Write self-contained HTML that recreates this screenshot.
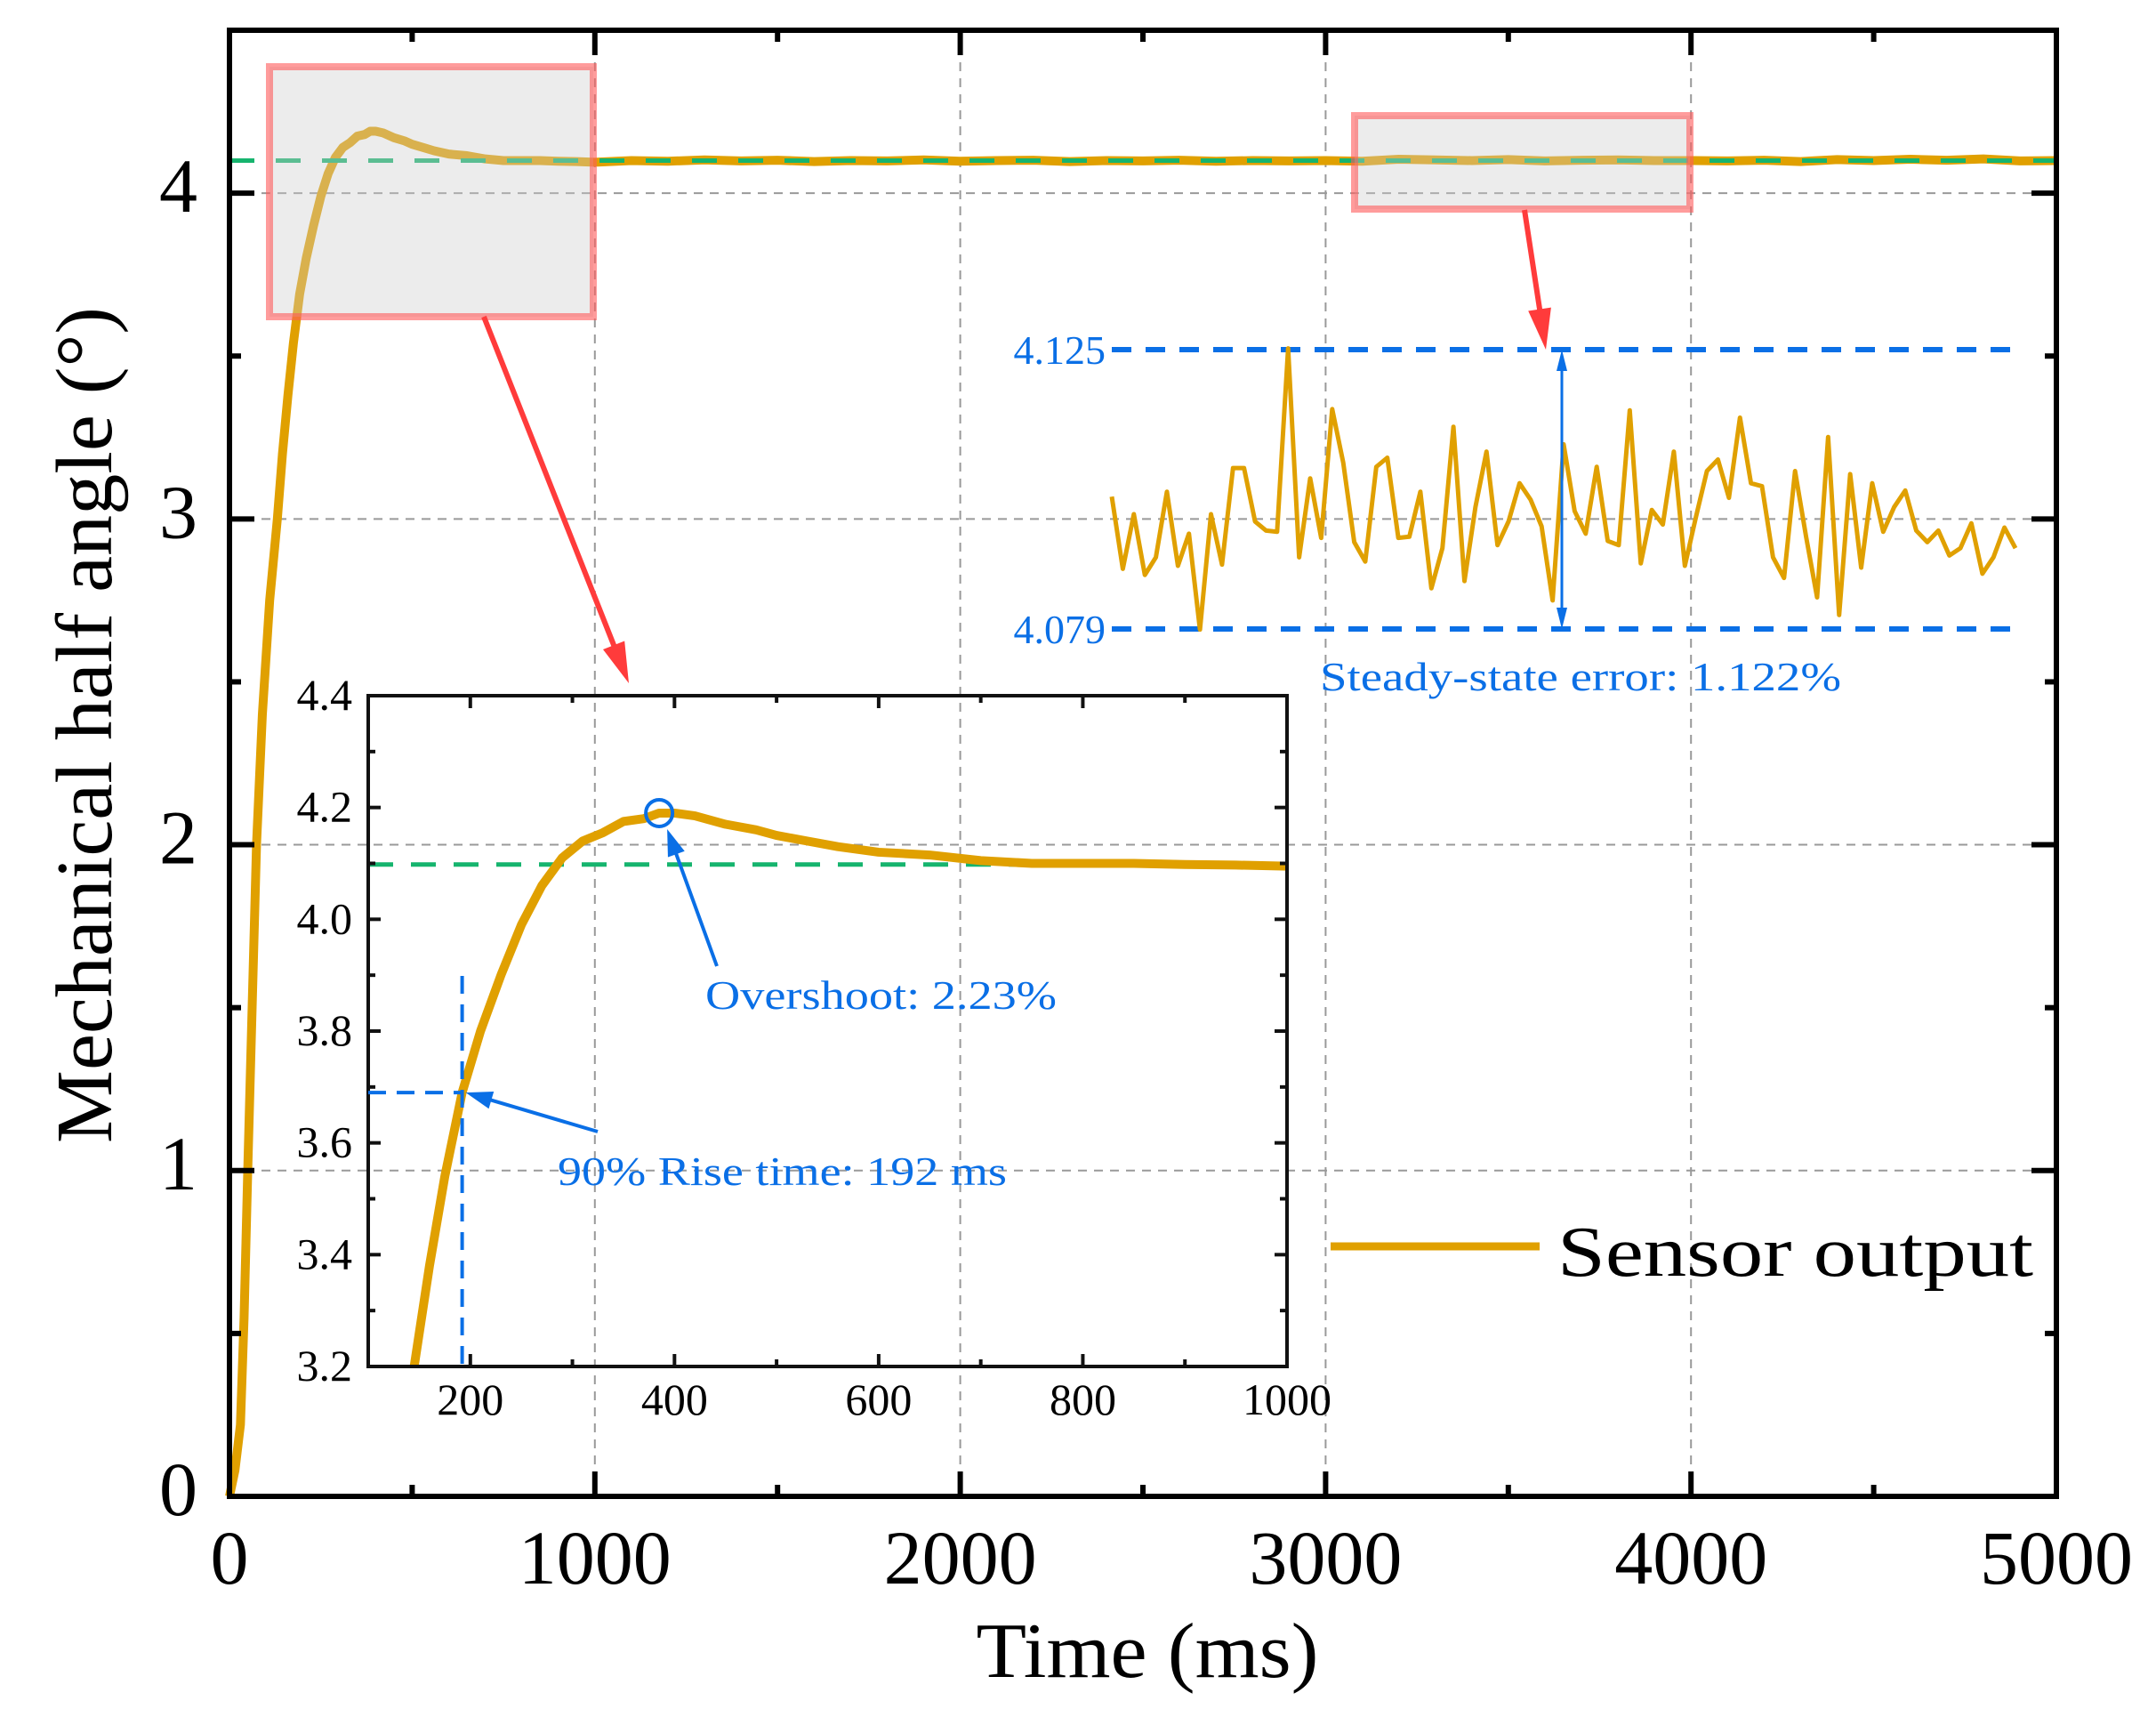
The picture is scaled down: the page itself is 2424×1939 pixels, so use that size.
<!DOCTYPE html>
<html><head><meta charset="utf-8"><style>
html,body{margin:0;padding:0;background:#fff}
svg{display:block}
text{font-family:"Liberation Serif",serif}
</style></head><body>
<svg id="chart" width="2424" height="1939" viewBox="0 0 2424 1939" xmlns="http://www.w3.org/2000/svg">
<rect width="2424" height="1939" fill="#fff"/>
<g id="grid"></g>
<g id="mainplot"></g>
<g id="boxes"></g>
<g id="inset"></g>
<g id="noise"></g>
<g id="axes"></g>
<text transform="translate(125,815) rotate(-90)" text-anchor="middle" font-size="90" textLength="940" lengthAdjust="spacingAndGlyphs">Mechanical half angle (°)</text>
<text x="1290" y="1885" text-anchor="middle" font-size="88" textLength="385" lengthAdjust="spacingAndGlyphs">Time (ms)</text>
<g>
<line x1="1496" y1="1401" x2="1731" y2="1401" stroke="#E0A000" stroke-width="9"/>
<text x="1751" y="1434" font-size="80" textLength="535" lengthAdjust="spacingAndGlyphs">Sensor output</text>
</g>
</svg>
<script>
// ---- data ----
const mainTimes = [0,15,30,40,50,62,74,90,110,131,145,160,175,192,210,230,250,270,290,310,330,350,370,385,400,420,450,480,500,530,560,600,650,700,750,800,850,900,950,1000];
const mainValues = [0,0.08,0.22,0.55,1.0,1.5,2.0,2.4,2.75,3.0,3.2,3.38,3.54,3.69,3.8,3.9,3.99,4.06,4.11,4.14,4.155,4.175,4.18,4.19,4.19,4.185,4.17,4.16,4.15,4.14,4.13,4.12,4.115,4.105,4.1,4.1,4.1,4.098,4.097,4.095];
const steadyTimes = [1100,1200,1300,1400,1500,1600,1700,1800,1900,2000,2100,2200,2300,2400,2500,2600,2700,2800,2900,3000,3100,3200,3300,3400,3500,3600,3700,3800,3900,4000,4100,4200,4300,4400,4500,4600,4700,4800,4900,5000];
const steadyValues = [4.1,4.098,4.102,4.099,4.101,4.097,4.1,4.099,4.102,4.098,4.1,4.101,4.097,4.1,4.099,4.101,4.098,4.1,4.099,4.1,4.098,4.104,4.102,4.1,4.103,4.099,4.101,4.102,4.1,4.1,4.099,4.101,4.097,4.103,4.1,4.104,4.101,4.105,4.099,4.1];
const referenceValue = 4.1;
const insetReference = 4.098;
const noiseValues = [4.1008,4.0889,4.0979,4.0879,4.0908,4.1016,4.0894,4.0947,4.0789,4.0979,4.0896,4.1055,4.1055,4.0967,4.0952,4.0950,4.1252,4.0908,4.1038,4.0940,4.1152,4.1064,4.0933,4.0901,4.1057,4.1072,4.0940,4.0942,4.1016,4.0857,4.0923,4.1123,4.0869,4.0991,4.1082,4.0928,4.0967,4.1030,4.1003,4.0959,4.0837,4.1094,4.0984,4.0947,4.1057,4.0935,4.0928,4.1150,4.0898,4.0986,4.0962,4.1082,4.0894,4.0974,4.1050,4.1069,4.1006,4.1138,4.1030,4.1025,4.0908,4.0874,4.1050,4.0942,4.0842,4.1106,4.0813,4.1045,4.0891,4.1030,4.0950,4.0991,4.1018,4.0952,4.0933,4.0952,4.0911,4.0923,4.0964,4.0881,4.0908,4.0957,4.0923];
const noiseBounds = [4.125,4.079];
const xTicks = [0,1000,2000,3000,4000,5000];
const yTicks = [0,1,2,3,4];
const insetXTicks = [200,400,600,800,1000];
const insetYTicks = [3.2,3.4,3.6,3.8,4.0,4.2,4.4];
const riseTime = 192, riseValue = 3.69, peakTime = 385, peakValue = 4.19;

const NS="http://www.w3.org/2000/svg";
function mk(parent,tag,attrs,text){const e=document.createElementNS(NS,tag);for(const k in attrs)e.setAttribute(k,attrs[k]);if(text!==undefined)e.textContent=text;parent.appendChild(e);return e;}
const L=258,R=2312,T=34,B=1682;
const X=t=>L+(t/5000)*(R-L);
const Y=v=>B-(v/4.5)*(B-T);
const IL=414,IR=1447,IT=782,IB=1536;
const IX=t=>IL+(t-100)/900*(IR-IL);
const IY=v=>IB-(v-3.2)/1.2*(IB-IT);
const NL=1250,NR=2266;
const NY=v=>393+(4.125-v)/0.046*(707-393);
const NX=i=>NL+i*(NR-NL)/(noiseValues.length-1);

const grid=document.getElementById('grid');
for(const t of xTicks.slice(1,-1)){const l=mk(grid,'line',{x1:X(t),y1:T,x2:X(t),y2:B,stroke:'#999','stroke-width':2,'stroke-dasharray':'10 8'});

}
for(const v of yTicks.slice(1)){const l=mk(grid,'line',{x1:L,y1:Y(v),x2:R,y2:Y(v),stroke:'#999','stroke-width':2,'stroke-dasharray':'10 8'});

}

const mp=document.getElementById('mainplot');
const allT=mainTimes.concat(steadyTimes), allV=mainValues.concat(steadyValues);
const pm=mk(mp,'polyline',{points:allT.map((t,i)=>X(t)+','+Y(allV[i])).join(' '),fill:'none',stroke:'#E0A000','stroke-width':10,'stroke-linejoin':'round'});


const g1=mk(mp,'line',{x1:L,y1:Y(referenceValue),x2:R,y2:Y(referenceValue),stroke:'#16B46E','stroke-width':5,'stroke-dasharray':'28 24'});



const bx=document.getElementById('boxes');
const b1=mk(bx,'rect',{x:303,y:75,width:364,height:281,fill:'rgba(205,205,205,0.38)',stroke:'rgba(255,90,90,0.6)','stroke-width':8});


const b2=mk(bx,'rect',{x:1523,y:130,width:377,height:105,fill:'rgba(205,205,205,0.38)',stroke:'rgba(255,90,90,0.6)','stroke-width':8});


function arrow(parent,x1,y1,x2,y2,col,w,hl,hw,name){
 const g=mk(parent,'g',{});
 
 
 const a=Math.atan2(y2-y1,x2-x1),c=Math.cos(a),s=Math.sin(a);
 mk(g,'line',{x1:x1,y1:y1,x2:x2-c*hl*0.8,y2:y2-s*hl*0.8,stroke:col,'stroke-width':w});
 mk(g,'polygon',{points:`${x2},${y2} ${x2-c*hl-s*hw},${y2-s*hl+c*hw} ${x2-c*hl+s*hw},${y2-s*hl-c*hw}`,fill:col});
}
arrow(bx,544,356,707,768,'#FF3B3B',6,46,13,'red-arrow-rise');
arrow(bx,1714,236,1738,393,'#FF3B3B',6,46,13,'red-arrow-steady');

const ins=document.getElementById('inset');
mk(ins,'line',{x1:IL,y1:IY(insetReference),x2:IR,y2:IY(insetReference),stroke:'#16B46E','stroke-width':5,'stroke-dasharray':'28 20'});
const ip=[];mainTimes.forEach((t,i)=>{if(t>=140)ip.push(IX(t)+','+IY(mainValues[i]));});
const ipl=mk(ins,'polyline',{points:ip.join(' '),fill:'none',stroke:'#E0A000','stroke-width':10,'stroke-linejoin':'round'});


const f=mk(ins,'rect',{x:IL,y:IT,width:IR-IL,height:IB-IT,fill:'none',stroke:'#111','stroke-width':4});


for(let t=100;t<=1000;t+=100){const maj=t%200===0;const len=maj?14:8;
 mk(ins,'line',{x1:IX(t),y1:IB,x2:IX(t),y2:IB-len,stroke:'#111','stroke-width':4});
 mk(ins,'line',{x1:IX(t),y1:IT,x2:IX(t),y2:IT+len,stroke:'#111','stroke-width':4});}
for(let k=0;k<=12;k++){const v=3.2+k*0.1;const len=k%2===0?14:8;
 mk(ins,'line',{x1:IL,y1:IY(v),x2:IL+len,y2:IY(v),stroke:'#111','stroke-width':4});
 mk(ins,'line',{x1:IR,y1:IY(v),x2:IR-len,y2:IY(v),stroke:'#111','stroke-width':4});}
for(const t of insetXTicks){const e=mk(ins,'text',{x:IX(t),y:1590,'text-anchor':'middle','font-size':50},String(t));

}
for(const v of insetYTicks){const e=mk(ins,'text',{x:396,y:IY(v)+16,'text-anchor':'end','font-size':50},v.toFixed(1));

}
const BL='#0A6FE6';
mk(ins,'line',{x1:IX(riseTime),y1:1097,x2:IX(riseTime),y2:IB,stroke:BL,'stroke-width':4,'stroke-dasharray':'20 12'});
mk(ins,'line',{x1:IL,y1:IY(riseValue),x2:IX(riseTime),y2:IY(riseValue),stroke:BL,'stroke-width':4,'stroke-dasharray':'20 12'});
arrow(ins,672,1272,IX(riseTime)+4,IY(riseValue),BL,4,30,10,'rise-arrow');
const c=mk(ins,'circle',{cx:IX(peakTime),cy:IY(peakValue),r:15,fill:'none',stroke:BL,'stroke-width':4});


arrow(ins,806,1086,IX(peakTime)+9,IY(peakValue)+18,BL,4,30,10,'overshoot-arrow');
const t1=mk(ins,'text',{x:793,y:1134,'font-size':46,fill:BL,textLength:395,lengthAdjust:'spacingAndGlyphs'},'Overshoot: 2.23%');


const t2=mk(ins,'text',{x:627,y:1332,'font-size':46,fill:BL,textLength:505,lengthAdjust:'spacingAndGlyphs'},'90% Rise time: 192 ms');



const nz=document.getElementById('noise');
for(const v of noiseBounds){mk(nz,'line',{x1:1250,y1:NY(v),x2:2266,y2:NY(v),stroke:BL,'stroke-width':6,'stroke-dasharray':'22 16'});
const e=mk(nz,'text',{x:1243,y:NY(v)+16,'text-anchor':'end','font-size':46,fill:BL},v.toFixed(3));

}
const npl=mk(nz,'polyline',{points:noiseValues.map((v,i)=>NX(i)+','+NY(v)).join(' '),fill:'none',stroke:'#E0A000','stroke-width':5,'stroke-linejoin':'round'});


arrow(nz,1756,520,1756,NY(noiseBounds[0]),BL,3,24,6,'error-arrow-up');
arrow(nz,1756,560,1756,NY(noiseBounds[1]),BL,3,24,6,'error-arrow-down');
mk(nz,'line',{x1:1756,y1:500,x2:1756,y2:580,stroke:BL,'stroke-width':3});
const t3=mk(nz,'text',{x:1484,y:776,'font-size':46,fill:BL,textLength:586,lengthAdjust:'spacingAndGlyphs'},'Steady-state error: 1.122%');



const ax=document.getElementById('axes');
const fr=mk(ax,'rect',{x:L,y:T,width:R-L,height:B-T,fill:'none',stroke:'#000','stroke-width':6});


for(let t=0;t<=5000;t+=500){const len=t%1000===0?28:13;
 mk(ax,'line',{x1:X(t),y1:B,x2:X(t),y2:B-len,stroke:'#000','stroke-width':6});
 mk(ax,'line',{x1:X(t),y1:T,x2:X(t),y2:T+len,stroke:'#000','stroke-width':6});}
for(let k=0;k<=9;k++){const v=k*0.5;const len=k%2===0?28:13;
 mk(ax,'line',{x1:L,y1:Y(v),x2:L+len,y2:Y(v),stroke:'#000','stroke-width':6});
 mk(ax,'line',{x1:R,y1:Y(v),x2:R-len,y2:Y(v),stroke:'#000','stroke-width':6});}
for(const t of xTicks){const e=mk(ax,'text',{x:X(t),y:1780,'text-anchor':'middle','font-size':86},String(t));

}
for(const v of yTicks){const e=mk(ax,'text',{x:222,y:Y(v)+21,'text-anchor':'end','font-size':86},String(v));

}
</script>
</body></html>
